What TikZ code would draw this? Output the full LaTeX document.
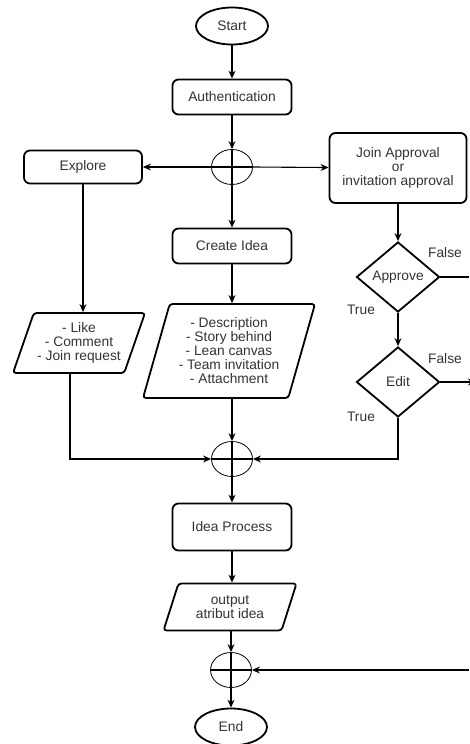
\documentclass[tikz,border=0pt]{standalone}
\usepackage{fontspec}
\setmainfont{Liberation Sans}
\usetikzlibrary{shapes,arrows.meta}

\begin{document}
\begin{tikzpicture} [x=1pt,y=-1pt,
  every node/.style={font=\fontsize{13.8}{14}\selectfont,text=black!80},
  term/.style={shape=ellipse,draw,line width=1.8pt,minimum width=72pt,minimum height=37pt,inner sep=0},
  proc/.style={shape=rectangle,rounded corners=6pt,draw,line width=1.8pt,minimum width=119pt,align=center,inner sep=0},
  io/.style={shape=trapezium,trapezium stretches body,draw,line width=1.8pt,rounded corners=3pt,align=center,inner sep=0},
  dec/.style={shape=diamond,draw,line width=1.8pt,minimum width=83pt,minimum height=70pt,inner sep=0},
  junc/.style={shape=ellipse,draw,line width=0.8pt,minimum width=41pt,minimum height=35pt,inner sep=0},
  flow/.style={line width=1.1pt,-{Stealth[length=8pt,width=7pt]}},
  plain/.style={line width=1.1pt}]
  \useasboundingbox (0,0) rectangle (469,744);
  % Main column
  {\node[term] (start) at (232,26) {Start};}
  {\node[proc,minimum height=35pt] (auth) at (232,97) {Authentication};}
  {\node[junc] (j1) at (232,167) {};}
  {\node[proc,minimum height=35pt] (create) at (232,246) {Create Idea};}
  {\node[io,trapezium left angle=68,trapezium right angle=112,minimum width=172pt,minimum height=94pt] (desc) at (229,351) {- Description\\- Story behind\\- Lean canvas\\- Team invitation\\- Attachment};}
  {\node[junc] (j2) at (232,459) {};}
  {\node[proc,minimum height=47pt] (ideaproc) at (232,527) {Idea Process};}
  {\node[io,trapezium left angle=57,trapezium right angle=123,minimum width=133pt,minimum height=47pt] (output) at (230,607) {output\\atribut idea};}
  {\node[junc] (j3) at (231,670) {};}
  {\node[term] (finish) at (231,727) {End};}
  % Left column
  {\node[proc,minimum width=118pt,minimum height=33pt] (explore) at (83,167) {Explore};}
  {\node[io,trapezium left angle=63,trapezium right angle=117,minimum width=132pt,minimum height=60pt] (like) at (79,343) {- Like\\- Comment\\- Join request};}
  % Right column
  {\node[proc,minimum width=137pt,minimum height=70pt] (join) at (398,168) {Join Approval\\or\\invitation approval};}
  {\node[dec] (approve) at (398,277) {Approve};}
  {\node[dec] (edit) at (398,382) {Edit};}
  {\node (f1) at (445,253) {False};}
  {\node (t1) at (361,310) {True};}
  {\node (f2) at (445,359) {False};}
  {\node (t2) at (361,417) {True};}
  \coordinate (out1) at (469,277);
  \coordinate (out2) at (476,382);
  \coordinate (in3) at (469,670);
  % Connectors
  \draw[flow] (start) -- (auth);
  \draw[flow] (auth) -- (j1.north);
  \draw[plain] (j1.north) -- (j1.south);
  \draw[plain] (j1.west) -- (j1.east);
  \draw[flow] (j1.west) -- (explore);
  \draw[flow] (j1.east) -- (join);
  \draw[flow] (j1.south) -- (create);
  \draw[flow] (create) -- (create |- desc.north);
  \draw[flow] (j2 |- desc.south) -- (j2.north);
  \draw[flow] (explore.south) -- (explore.south |- like.north);
  \draw[flow] ([xshift=-9pt]like.south) |- (j2.west);
  \draw[flow] (join) -- (approve);
  \draw[flow] (approve) -- (edit);
  \draw[plain] (approve.east) -- (out1);
  \draw[flow] (edit.east) -- (out2);
  \draw[flow] (edit.south) |- (j2.east);
  \draw[plain] (j2.north) -- (j2.south);
  \draw[plain] (j2.west) -- (j2.east);
  \draw[flow] (j2.south) -- (ideaproc);
  \draw[flow] (ideaproc) -- (ideaproc |- output.north);
  \draw[flow] (j3 |- output.south) -- (j3.north);
  \draw[plain] (j3.west) -- (j3.east);
  \draw[flow] (j3.north) -- (finish);
  \draw[flow] (in3) -- (j3.east);
\end{tikzpicture}
\end{document}
